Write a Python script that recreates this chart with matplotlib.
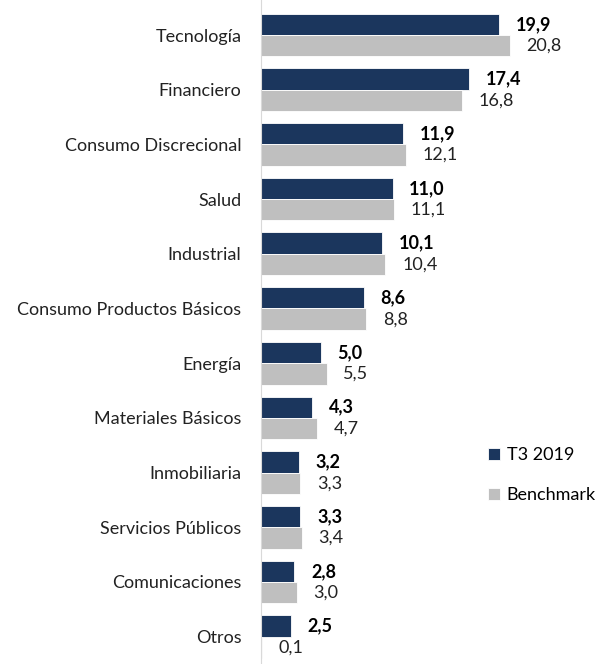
"""Sector weights: T3 2019 vs. Benchmark, horizontal grouped bars."""

import matplotlib.pyplot as plt
import numpy as np

categories = [
    "Tecnología", "Financiero", "Consumo Discrecional", "Salud", "Industrial",
    "Consumo Productos Básicos", "Energía", "Materiales Básicos", "Inmobiliaria",
    "Servicios Públicos", "Comunicaciones", "Otros",
]
t3_2019 = [19.9, 17.4, 11.9, 11.0, 10.1, 8.6, 5.0, 4.3, 3.2, 3.3, 2.8, 2.5]
benchmark = [20.8, 16.8, 12.1, 11.1, 10.4, 8.8, 5.5, 4.7, 3.3, 3.4, 3.0, 0.1]

NAVY = "#1b365d"
GRAY = "#bfbfbf"

plt.rcParams["font.family"] = ["Lato", "DejaVu Sans"]

fig = plt.figure(figsize=(6.02, 6.64), dpi=100)
ax = fig.add_axes([261 / 602, 0, 1 - 261 / 602, 1])

y = np.arange(len(categories))
h = 0.39
ax.barh(y - h / 2, t3_2019, height=h, color=NAVY, edgecolor="white", linewidth=0.6,
        label="T3 2019")
ax.barh(y + h / 2, benchmark, height=h, color=GRAY, edgecolor="white", linewidth=0.6,
        label="Benchmark")

for i, (a, b) in enumerate(zip(t3_2019, benchmark)):
    ax.annotate(f"{a:.1f}".replace(".", ","), (a, i - h / 2), xytext=(12, 0),
                textcoords="offset points", ha="left", va="center",
                fontsize=13, fontweight="bold", color="black")
    ax.annotate(f"{b:.1f}".replace(".", ","), (b, i + h / 2), xytext=(12, 0),
                textcoords="offset points", ha="left", va="center",
                fontsize=13, color="#222222")

ax.set_xlim(0, 341 / 11.96)
ax.set_ylim(11.5, -0.64)
ax.set_yticks(y)
ax.set_yticklabels(categories, fontsize=13, color="#222222")
ax.tick_params(axis="y", length=0, pad=14)
ax.set_xticks([])
for side in ["top", "right", "bottom"]:
    ax.spines[side].set_visible(False)
ax.spines["left"].set_color("#d9d9d9")

ax.legend(loc="upper left", bbox_to_anchor=(0.667, 0.327), frameon=False,
          fontsize=13, handlelength=0.65, handleheight=0.65, handletextpad=0.35,
          labelspacing=1.35, borderaxespad=0, borderpad=0)

fig.savefig("out.png", dpi=100)
